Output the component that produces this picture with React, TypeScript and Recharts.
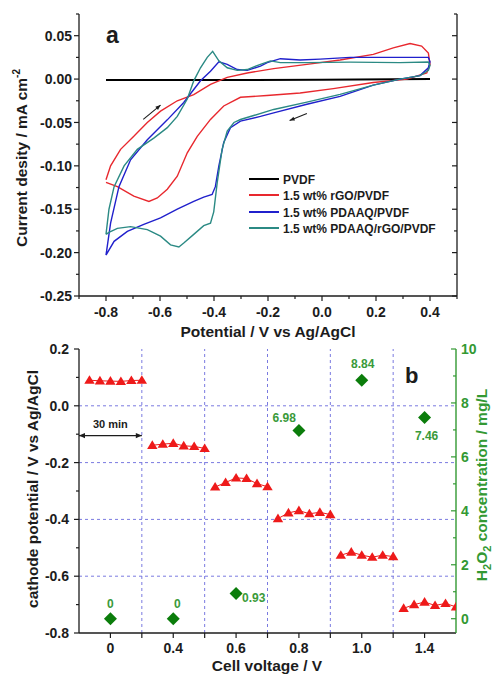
import React from 'react';
import { ComposedChart, Line, Scatter, XAxis, YAxis, ReferenceLine } from 'recharts';

// ---- panel a: cyclic voltammograms (V vs Ag/AgCl, mA cm^-2) ----
const pvdfPotential = [-0.8, -0.4, 0.0, 0.4];
const pvdfCurrent = [-0.0012, -0.001, -0.0008, 0.0];

const rgoPotential = [
  -0.8, -0.783, -0.746, -0.697, -0.647, -0.598, -0.536, -0.475, -0.413, -0.351, -0.277, -0.179, -0.056, 0.067, 0.19,
  0.264, 0.326, 0.369, 0.394, 0.4, 0.388, 0.314, 0.19, 0.042, -0.081, -0.204, -0.302, -0.364, -0.413, -0.462, -0.499,
  -0.536, -0.573, -0.61, -0.641, -0.697, -0.758, -0.8,
];
const rgoCurrent = [
  -0.116, -0.1, -0.081, -0.066, -0.05, -0.037, -0.025, -0.018, -0.006, 0.002, 0.007, 0.012, 0.017, 0.022, 0.0285,
  0.036, 0.041, 0.038, 0.03, 0.017, 0.007, 0.0, -0.004, -0.011, -0.016, -0.019, -0.021, -0.031, -0.0465, -0.066, -0.085,
  -0.112, -0.127, -0.137, -0.141, -0.135, -0.124, -0.119,
];

const pdaaqPotential = [
  -0.8, -0.783, -0.752, -0.709, -0.647, -0.573, -0.512, -0.475, -0.45, -0.413, -0.382, -0.351, -0.314, -0.277, -0.228,
  -0.203, -0.154, -0.081, -0.007, 0.104, 0.289, 0.394, 0.4, 0.394, 0.363, 0.289, 0.19, 0.067, -0.056, -0.179, -0.228,
  -0.302, -0.339, -0.364, -0.382, -0.395, -0.407, -0.438, -0.475, -0.536, -0.598, -0.66, -0.721, -0.77, -0.8,
];
const pdaaqCurrent = [
  -0.203, -0.166, -0.124, -0.093, -0.07, -0.047, -0.027, -0.012, -0.002, 0.009, 0.02, 0.017, 0.011, 0.01, 0.015, 0.019,
  0.0235, 0.022, 0.023, 0.025, 0.025, 0.025, 0.02, 0.013, 0.004, 0.0, -0.007, -0.02, -0.029, -0.039, -0.043, -0.0485,
  -0.056, -0.073, -0.1, -0.124, -0.133, -0.136, -0.141, -0.15, -0.16, -0.1675, -0.1755, -0.187, -0.203,
];

const hybridPotential = [
  -0.8, -0.789, -0.77, -0.733, -0.684, -0.623, -0.573, -0.536, -0.499, -0.475, -0.45, -0.425, -0.405, -0.382, -0.351,
  -0.314, -0.277, -0.228, -0.191, -0.154, -0.056, 0.104, 0.289, 0.394, 0.4, 0.394, 0.363, 0.289, 0.19, 0.067, -0.056,
  -0.179, -0.253, -0.302, -0.326, -0.351, -0.37, -0.388, -0.401, -0.413, -0.438, -0.475, -0.512, -0.53, -0.561, -0.598,
  -0.647, -0.709, -0.758, -0.789, -0.8,
];
const hybridCurrent = [
  -0.179, -0.15, -0.124, -0.1, -0.081, -0.068, -0.056, -0.043, -0.023, -0.002, 0.013, 0.025, 0.032, 0.021, 0.013, 0.01,
  0.011, 0.017, 0.021, 0.019, 0.019, 0.0195, 0.019, 0.0196, 0.016, 0.01, 0.004, 0.0, -0.007, -0.0177, -0.0265, -0.035,
  -0.042, -0.0466, -0.05, -0.06, -0.081, -0.119, -0.153, -0.166, -0.169, -0.179, -0.189, -0.1935, -0.191, -0.181,
  -0.1735, -0.17, -0.172, -0.1767, -0.179,
];

const cvXTicks = [-0.9, -0.8, -0.7, -0.6, -0.5, -0.4, -0.3, -0.2, -0.1, 0, 0.1, 0.2, 0.3, 0.4, 0.5];
const cvYTicks = [
  -0.25, -0.225, -0.2, -0.175, -0.15, -0.125, -0.1, -0.075, -0.05, -0.025, 0, 0.025, 0.05, 0.075,
];

// sweep-direction arrows, in data units
const cvArrows = [
  { from: [-0.662, -0.0465], to: [-0.598, -0.03] },
  { from: [-0.056, -0.0396], to: [-0.12, -0.0477] },
];

// ---- panel b: cathode potential over time and H2O2 yield per cell voltage ----
const cellVoltages = ['0', '0.4', '0.6', '0.8', '1.0', '1.4'];
const sampleMinutes = [5, 10, 15, 20, 25, 30];
const stepMinutes = 30;

const cathodeAt0V = [0.09, 0.088, 0.087, 0.086, 0.089, 0.09];
const cathodeAt04V = [-0.139, -0.135, -0.132, -0.141, -0.143, -0.15];
const cathodeAt06V = [-0.286, -0.27, -0.254, -0.256, -0.274, -0.285];
const cathodeAt08V = [-0.397, -0.377, -0.369, -0.38, -0.375, -0.383];
const cathodeAt10V = [-0.526, -0.515, -0.526, -0.533, -0.526, -0.531];
const cathodeAt14V = [-0.713, -0.7, -0.691, -0.703, -0.696, -0.708];
const cathodeSeries = [cathodeAt0V, cathodeAt04V, cathodeAt06V, cathodeAt08V, cathodeAt10V, cathodeAt14V];

const h2o2Conc = [0, 0, 0.93, 6.98, 8.84, 7.46];

const timeTicks = [15, 30, 45, 60, 75, 90, 105, 120, 135, 150, 165];
const gridMinutes = [30, 60, 90, 120, 150];
const gridPotentials = [0, -0.2, -0.4, -0.6];
const potTicks = [-0.8, -0.7, -0.6, -0.5, -0.4, -0.3, -0.2, -0.1, 0, 0.1, 0.2];
const concTicks = [0, 1, 2, 3, 4, 5, 6, 7, 8, 9, 10];

// label placement for the H2O2 values (offsets from the marker, px)
const concLabelPlace = [
  { dx: 0, dy: -11, anchor: 'middle' },
  { dx: 4, dy: -11, anchor: 'middle' },
  { dx: 6, dy: 8, anchor: 'start' },
  { dx: -3, dy: -8, anchor: 'end' },
  { dx: 1, dy: -12, anchor: 'middle' },
  { dx: 2, dy: 22, anchor: 'middle' },
];

const FONT = '"Liberation Sans", Arial, Helvetica, sans-serif';
const INK = '#1c1c1c';
const RED = '#e8282e';
const BLUE = '#2020cc';
const TEAL = '#2b8a84';
const TRI_RED = '#ee1a1a';
const GREEN_AXIS = '#339933';
const GREEN_MARK = '#0b7d0b';
const GREEN_TEXT = '#3a9a3a';
const GRID = '#7a7ae0';

const toLoop = (v: number[], i: number[]) => v.map((x, k) => ({ v: x, i: i[k] }));

const cvSeries = [
  { name: 'PVDF', data: toLoop(pvdfPotential, pvdfCurrent), color: '#000', width: 2 },
  { name: '1.5 wt% rGO/PVDF', data: toLoop(rgoPotential, rgoCurrent), color: RED, width: 1.4 },
  { name: '1.5 wt% PDAAQ/PVDF', data: toLoop(pdaaqPotential, pdaaqCurrent), color: BLUE, width: 1.4 },
  { name: '1.5 wt% PDAAQ/rGO/PVDF', data: toLoop(hybridPotential, hybridCurrent), color: TEAL, width: 1.4 },
];

const cathodePoints = cathodeSeries.map((vals, g) =>
  vals.map((p, k) => ({ t: g * stepMinutes + sampleMinutes[k], v: p }))
);
const concPoints = h2o2Conc.map((c, k) => ({ t: k * stepMinutes + stepMinutes / 2, c, k }));

type Side = 'left' | 'right' | 'top' | 'bottom';

function axisTick(
  side: Side,
  inward: boolean,
  isMajor: (v: number) => boolean,
  format: ((v: number) => string) | null,
  gap = 7,
  color = INK
) {
  return (props: any) => {
    const { x, y, payload } = props;
    const v = Number(payload.value);
    const major = isMajor(v);
    const len = major ? 5 : 3;
    let x2 = x;
    let y2 = y;
    if (side === 'left') x2 = inward ? x + len : x - len;
    if (side === 'right') x2 = inward ? x - len : x + len;
    if (side === 'top') y2 = inward ? y + len : y - len;
    if (side === 'bottom') y2 = inward ? y - len : y + len;
    let label = null;
    if (major && format) {
      const common = { fontFamily: FONT, fontWeight: 700, fontSize: 14, fill: color };
      if (side === 'left')
        label = (
          <text x={x - gap} y={y} dy="0.36em" textAnchor="end" {...common}>
            {format(v)}
          </text>
        );
      if (side === 'right')
        label = (
          <text x={x + gap} y={y} dy="0.36em" textAnchor="start" {...common}>
            {format(v)}
          </text>
        );
      if (side === 'bottom')
        label = (
          <text x={x} y={y + gap} textAnchor="middle" {...common}>
            {format(v)}
          </text>
        );
    }
    return (
      <g>
        <line x1={x} y1={y} x2={x2} y2={y2} stroke={color} strokeWidth={1.2} />
        {label}
      </g>
    );
  };
}

const evenTenth = (v: number) => Math.abs(Math.round(v * 10)) % 2 === 0;
const fiftieth = (v: number) => Math.abs(Math.round(v * 1000)) % 50 === 0;
const evenInt = (v: number) => Math.round(v) % 2 === 0;
const voltTick = (v: number) => (v - stepMinutes / 2) % stepMinutes === 0;

function arrowHead(x1: number, y1: number, x2: number, y2: number, size: number) {
  const a = Math.atan2(y2 - y1, x2 - x1);
  const bx = x2 - size * Math.cos(a);
  const by = y2 - size * Math.sin(a);
  const w = size * 0.42;
  return `${x2},${y2} ${bx + w * Math.sin(a)},${by - w * Math.cos(a)} ${bx - w * Math.sin(a)},${by + w * Math.cos(a)}`;
}

const singleArrow = (p: any) => (
  <g>
    <line x1={p.x1} y1={p.y1} x2={p.x2} y2={p.y2} stroke={INK} strokeWidth={1.1} />
    <polygon points={arrowHead(p.x1, p.y1, p.x2, p.y2, 5)} fill={INK} />
  </g>
);

const spanArrow = (p: any) => (
  <g>
    <line x1={p.x1} y1={p.y1} x2={p.x2} y2={p.y2} stroke={INK} strokeWidth={1.1} />
    <polygon points={arrowHead(p.x1, p.y1, p.x2, p.y2, 6)} fill={INK} />
    <polygon points={arrowHead(p.x2, p.y2, p.x1, p.y1, 6)} fill={INK} />
    <text
      x={(p.x1 + p.x2) / 2}
      y={p.y1 - 8}
      textAnchor="middle"
      fontFamily={FONT}
      fontWeight={700}
      fontSize={11}
      fill={INK}>
      30 min
    </text>
  </g>
);

const triangle = (p: any) => (
  <polygon points={`${p.cx},${p.cy - 5} ${p.cx - 5.2},${p.cy + 3.6} ${p.cx + 5.2},${p.cy + 3.6}`} fill={TRI_RED} />
);

const diamond = (p: any) => {
  const k = p.payload?.k ?? p.index ?? 0;
  const place = concLabelPlace[k];
  return (
    <g>
      <polygon
        points={`${p.cx},${p.cy - 6.5} ${p.cx + 6.5},${p.cy} ${p.cx},${p.cy + 6.5} ${p.cx - 6.5},${p.cy}`}
        fill={GREEN_MARK}
      />
      <text
        x={p.cx + place.dx}
        y={p.cy + place.dy}
        textAnchor={place.anchor as any}
        fontFamily={FONT}
        fontWeight={700}
        fontSize={12}
        fill={GREEN_TEXT}>
        {String(h2o2Conc[k])}
      </text>
    </g>
  );
};

function CvPanel() {
  return (
    <ComposedChart width={494} height={340} margin={{ top: 14, right: 0, bottom: 0, left: 0 }}>
      <XAxis
        xAxisId="v"
        dataKey="v"
        type="number"
        domain={[-0.9, 0.5]}
        allowDataOverflow
        ticks={cvXTicks}
        interval={0}
        height={44}
        tickSize={0}
        tickMargin={0}
        tickLine={false}
        axisLine={{ stroke: INK, strokeWidth: 1.3 }}
        tick={axisTick('bottom', false, evenTenth, (v) => v.toFixed(1), 21)}
      />
      <XAxis
        xAxisId="top"
        orientation="top"
        type="number"
        domain={[-0.9, 0.5]}
        allowDataOverflow
        ticks={cvXTicks}
        interval={0}
        height={0}
        tickSize={0}
        tickMargin={0}
        tickLine={false}
        axisLine={{ stroke: INK, strokeWidth: 1.3 }}
        tick={axisTick('top', true, evenTenth, null)}
      />
      <YAxis
        yAxisId="i"
        type="number"
        domain={[-0.25, 0.075]}
        allowDataOverflow
        ticks={cvYTicks}
        interval={0}
        width={79}
        tickSize={0}
        tickMargin={0}
        tickLine={false}
        axisLine={{ stroke: INK, strokeWidth: 1.3 }}
        tick={axisTick('left', false, fiftieth, (v) => v.toFixed(2), 7)}
      />
      <YAxis
        yAxisId="iRight"
        orientation="right"
        type="number"
        domain={[-0.25, 0.075]}
        allowDataOverflow
        ticks={cvYTicks}
        interval={0}
        width={37}
        tickSize={0}
        tickMargin={0}
        tickLine={false}
        axisLine={{ stroke: INK, strokeWidth: 1.3 }}
        tick={axisTick('right', true, fiftieth, null)}
      />
      {cvSeries.map((s) => (
        <Line
          key={s.name}
          xAxisId="v"
          yAxisId="i"
          data={s.data}
          dataKey="i"
          type="linear"
          stroke={s.color}
          strokeWidth={s.width}
          dot={false}
          activeDot={false}
          isAnimationActive={false}
        />
      ))}
      {cvArrows.map((a, k) => (
        <ReferenceLine
          key={k}
          xAxisId="v"
          yAxisId="i"
          segment={[
            { x: a.from[0], y: a.from[1] },
            { x: a.to[0], y: a.to[1] },
          ]}
          shape={singleArrow}
        />
      ))}
    </ComposedChart>
  );
}

function YieldPanel() {
  return (
    <ComposedChart width={494} height={335} margin={{ top: 9, right: 0, bottom: 0, left: 0 }}>
      <XAxis
        xAxisId="t"
        dataKey="t"
        type="number"
        domain={[0, 180]}
        allowDataOverflow
        ticks={timeTicks}
        interval={0}
        height={42}
        tickSize={0}
        tickMargin={0}
        tickLine={false}
        axisLine={{ stroke: INK, strokeWidth: 1.3 }}
        tick={axisTick('bottom', false, () => true, (v) => (voltTick(v) ? cellVoltages[(v - stepMinutes / 2) / stepMinutes] : ''), 20)}
      />
      <XAxis
        xAxisId="top"
        orientation="top"
        type="number"
        domain={[0, 180]}
        allowDataOverflow
        ticks={timeTicks}
        interval={0}
        height={0}
        tickSize={0}
        tickMargin={0}
        tickLine={false}
        axisLine={{ stroke: INK, strokeWidth: 1.3 }}
        tick={axisTick('top', true, () => true, null)}
      />
      <YAxis
        yAxisId="left"
        type="number"
        domain={[-0.8, 0.2]}
        allowDataOverflow
        ticks={potTicks}
        interval={0}
        width={79}
        tickSize={0}
        tickMargin={0}
        tickLine={false}
        axisLine={{ stroke: INK, strokeWidth: 1.3 }}
        tick={axisTick('left', false, evenTenth, (v) => v.toFixed(1), 10)}
      />
      <YAxis
        yAxisId="right"
        orientation="right"
        type="number"
        domain={[-0.53, 10]}
        allowDataOverflow
        ticks={concTicks}
        interval={0}
        width={38}
        tickSize={0}
        tickMargin={0}
        tickLine={false}
        axisLine={{ stroke: GREEN_AXIS, strokeWidth: 1.4 }}
        tick={axisTick('right', true, evenInt, (v) => String(v), 5, GREEN_AXIS)}
      />
      {gridMinutes.map((t) => (
        <ReferenceLine key={`gx${t}`} xAxisId="t" yAxisId="left" x={t} stroke={GRID} strokeDasharray="3 3" />
      ))}
      {gridPotentials.map((p) => (
        <ReferenceLine key={`gy${p}`} xAxisId="t" yAxisId="left" y={p} stroke={GRID} strokeDasharray="3 3" />
      ))}
      <ReferenceLine
        xAxisId="t"
        yAxisId="left"
        segment={[
          { x: 0, y: -0.105 },
          { x: stepMinutes, y: -0.105 },
        ]}
        shape={spanArrow}
      />
      {cathodePoints.map((pts, g) => (
        <Scatter
          key={cellVoltages[g]}
          xAxisId="t"
          yAxisId="left"
          data={pts}
          dataKey="v"
          shape={triangle}
          line={{ stroke: TRI_RED, strokeWidth: 1 }}
          lineType="joint"
          isAnimationActive={false}
        />
      ))}
      <Scatter
        xAxisId="t"
        yAxisId="right"
        data={concPoints}
        dataKey="c"
        shape={diamond}
        isAnimationActive={false}
      />
    </ComposedChart>
  );
}

export default function App() {
  const title = { fontFamily: FONT, fontWeight: 700, fontSize: 15.5, fill: INK };
  return (
    <div style={{ position: 'absolute', left: 0, top: 0, width: 494, height: 675, background: '#fff' }}>
      <div style={{ position: 'absolute', left: 0, top: 0 }}>
        <CvPanel />
      </div>
      <div style={{ position: 'absolute', left: 0, top: 340 }}>
        <YieldPanel />
      </div>
      <svg
        width={494}
        height={675}
        style={{ position: 'absolute', left: 0, top: 0, pointerEvents: 'none', overflow: 'visible' }}>
        <text x={106} y={43} fontFamily={FONT} fontWeight={700} fontSize={23} fill={INK}>
          a
        </text>
        <text x={405} y={383} fontFamily={FONT} fontWeight={700} fontSize={22} fill={INK}>
          b
        </text>
        <text x={268} y={337} textAnchor="middle" {...title}>
          Potential / V vs Ag/AgCl
        </text>
        <text transform="translate(27,158) rotate(-90)" textAnchor="middle" {...title}>
          Current desity / mA cm<tspan dy={-7} fontSize={10}>-2</tspan>
        </text>
        <text x={267} y={671} textAnchor="middle" {...title}>
          Cell voltage / V
        </text>
        <text transform="translate(38,489) rotate(-90)" textAnchor="middle" {...title}>
          cathode potential / V vs Ag/AgCl
        </text>
        <text transform="translate(487,485) rotate(-90)" textAnchor="middle" {...title} fill={GREEN_AXIS}>
          H<tspan dy={4} fontSize={11}>2</tspan>
          <tspan dy={-4}>O</tspan>
          <tspan dy={4} fontSize={11}>2</tspan>
          <tspan dy={-4}>{' concentration / mg/L'}</tspan>
        </text>
        {cvSeries.map((s, k) => {
          const rowY = [179, 195, 212, 228][k];
          return (
            <g key={s.name}>
              <line x1={249} x2={279} y1={rowY} y2={rowY} stroke={s.color} strokeWidth={2} />
              <text x={283} y={rowY + 4.5} fontFamily={FONT} fontWeight={700} fontSize={12} fill={INK}>
                {s.name}
              </text>
            </g>
          );
        })}
      </svg>
    </div>
  );
}
